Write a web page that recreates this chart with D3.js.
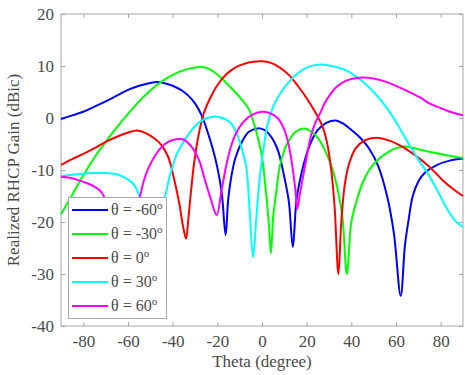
<!doctype html>
<html>

<head>
	<meta charset="utf-8">
	<script src="https://d3js.org/d3.v7.min.js" type="text/javascript"></script>
	<style>
		html, body { margin: 0; padding: 0; background: #fff; }
		#chartContainer { width: 465px; height: 375px; }
		svg text { font-family: "Liberation Serif", "Times New Roman", serif; }
	</style>
</head>

<body>

	<div id="chartContainer"></div>

	<script type="text/javascript">

		(function () {

			"use strict";

			// Ticks and legend labels
			const xTicks = [-80, -60, -40, -20, 0, 20, 40, 60, 80];
			const yTicks = [-40, -30, -20, -10, 0, 10, 20];
			const seriesNames = ["-60", "-30", "0", "30", "60"];
			const seriesColors = ["#0000ff", "#00ff00", "#ff0000", "#00ffff", "#ff00ff"];

			// Realized RHCP gain, [theta (deg), gain (dBic)]
			const gainM60 = [[-90, -0.2], [-85, 0.5], [-80, 1.2], [-75, 2.2], [-70, 3.2], [-65, 4.3], [-60, 5.4],
				[-55, 6.2], [-50, 6.75], [-47, 6.9], [-44, 6.75], [-40, 6.2], [-36, 5.3], [-33, 4.3], [-30, 2.8],
				[-27, 0.5], [-24.5, -2.5], [-22, -6], [-20, -9.5], [-18, -14.5], [-16.3, -22.5], [-15.2, -16],
				[-14.2, -12.5], [-12, -7.8], [-9, -4.6], [-6, -2.7], [-2, -2.0], [1, -2.3], [3, -3.0], [5.5, -4.6],
				[7.5, -6.7], [10, -11.4], [12, -16], [13.8, -24.8], [15.5, -15.5], [17.8, -10.4], [19.5, -7.6],
				[22, -4.6], [25, -2.3], [29, -0.9], [33, -0.5], [36, -1.0], [40, -2.3], [44, -3.8], [48, -5.9],
				[52, -9.2], [56, -15], [59, -22], [62.1, -34.2], [64, -24.5], [65.5, -20], [67.5, -15], [70, -12.2],
				[73, -10.5], [78, -9.1], [84, -8.2], [90, -7.8]];

			const gainM30 = [[-90, -18.5], [-85, -14.8], [-80, -11], [-75, -7.6], [-70, -4.6], [-65, -1.8],
				[-60, 0.8], [-55, 3.2], [-50, 5.3], [-45, 7.0], [-40, 8.3], [-35, 9.2], [-30, 9.7],
				[-27, 9.8], [-24, 9.5], [-21, 8.7], [-18, 7.6], [-15, 6.3], [-12, 5.0], [-9, 3.5], [-6, 1.8],
				[-4, -0.5], [-2, -3.5], [0, -7.5], [1.5, -13], [3, -20], [4, -26], [5, -19], [6, -15.5], [8, -9.2],
				[10, -6.2], [12, -4.4], [15, -2.7], [19, -2.0], [22, -2.6], [25, -3.8], [27.5, -5.6], [30, -8],
				[32, -10.5], [34, -14], [36, -19], [38, -30], [40, -20], [42, -16.5], [45, -12.5], [48, -10],
				[52, -8], [56, -6.7], [60, -5.8], [64, -5.5], [70, -6.0], [76, -6.6], [82, -7.1], [86, -7.4], [90, -7.7]];

			const gain0 = [[-90, -9.0], [-85, -7.9], [-80, -6.9], [-75, -5.8], [-70, -4.6], [-65, -3.6], [-60, -2.8],
				[-56, -2.4], [-52, -2.9], [-48, -4.0], [-45, -5.2], [-42, -7.5], [-39.5, -11.5], [-37, -16.5],
				[-35.5, -20.5], [-34, -23.2], [-33, -19.5], [-32, -15], [-30.5, -9], [-28.5, -3.5], [-26, 1],
				[-23, 4], [-20, 6.3], [-16, 8.4], [-12, 9.7], [-8, 10.4], [-4, 10.8], [0, 10.9], [4, 10.6], [8, 9.7],
				[12, 8.3], [16, 6.2], [20, 3.8], [24, 1.0], [27, -1.5], [29, -4.5], [31, -10], [32.5, -17],
				[34.2, -30], [35.5, -20], [37, -13], [39, -8.8], [42, -5.8], [46, -4.3], [51, -3.8], [56, -4.2],
				[62, -5.3], [68, -7], [75, -9.4], [81, -12], [86, -13.8], [90, -15]];

			const gain30 = [[-90, -11.2], [-85, -10.9], [-80, -10.7], [-75, -10.6], [-70, -10.6], [-65, -10.8],
				[-60, -11.8], [-57, -13], [-54.5, -15.5], [-52, -19], [-49, -23], [-46, -19], [-43.5, -15.3],
				[-41, -10.7], [-38, -6.8], [-35, -4.5], [-32, -2.6], [-28, -0.8], [-25, -0.1], [-21, 0.3],
				[-17, -0.1], [-14, -1.0], [-11, -3.3], [-8.5, -6.8], [-7, -9.5], [-5.5, -18], [-4, -26.8],
				[-2.5, -19], [-1, -11.5], [1, -5], [2.5, -1.2], [5, 2.2], [8, 4.6], [12, 6.9], [16, 8.6], [20, 9.7],
				[24, 10.2], [27, 10.3], [30, 10.1], [34, 9.7], [38, 9.1], [42, 8.0], [46, 6.7], [50, 5.0], [54, 3.0],
				[58, 0.6], [62, -2.2], [66, -5.2], [70, -8], [74, -10.5], [78, -13.5], [82, -16.8], [86, -19.5], [90, -21]];

			const gain60 = [[-90, -11.3], [-86, -11.5], [-82, -12], [-78, -12.6], [-75, -13.2], [-72, -14.2],
				[-70, -15.8], [-66, -20], [-63, -24], [-60, -20], [-57, -17], [-55, -15.5], [-53, -12.2], [-51, -9.8],
				[-48, -7.3], [-45, -5.6], [-42, -4.6], [-38.5, -4.1], [-35.5, -4.1], [-33, -4.8], [-30.5, -6.2],
				[-28, -8.3], [-25.5, -12], [-23, -15.5], [-20.3, -18.7], [-18, -13.6], [-15, -7.2], [-12, -3.3],
				[-8, -0.6], [-4, 0.7], [0, 1.2], [3, 1.0], [7, 0], [10, -2.3], [12, -5.3], [13.5, -9], [15, -14],
				[15.8, -17.5], [17, -14.5], [18.5, -11], [20, -7.5], [22, -3.3], [24, -0.8], [26, 0.9], [28, 2.8],
				[30.5, 4.5], [33, 5.8], [36.4, 6.9], [40, 7.5], [45, 7.8], [50, 7.6], [56, 6.9], [61, 6.0], [66, 5.0],
				[71, 3.9], [75, 2.8], [80, 1.9], [85, 1.1], [90, 0.5]];

			const allSeries = [gainM60, gainM30, gain0, gain30, gain60];

			const width = 465;
			const height = 375;
			const plot = { left: 61, right: 463, top: 14, bottom: 326 };
			const axisColor = "#a6a6a6";
			const textColor = "#4a4a4a";
			const serif = "'Liberation Serif', 'Times New Roman', serif";

			let svg = d3.select("#chartContainer").append("svg")
				.attr("width", width)
				.attr("height", height);

			let x = d3.scaleLinear().domain([-90, 90]).range([plot.left, plot.right]);
			let y = d3.scaleLinear().domain([-40, 20]).range([plot.bottom, plot.top]);

			// plain hyphen for negatives, like the original
			let fmt = function (d) { return String(d); };

			// Inward ticks on all four sides, labels only on bottom and left
			let xAxis = d3.axisBottom(x).tickValues(xTicks).tickFormat(fmt).tickSizeInner(-4).tickSizeOuter(0).tickPadding(9);
			let yAxis = d3.axisLeft(y).tickValues(yTicks).tickFormat(fmt).tickSizeInner(-4).tickSizeOuter(0).tickPadding(7);

			let gx = svg.append("g")
				.attr("transform", "translate(0," + plot.bottom + ")")
				.call(xAxis);
			let gy = svg.append("g")
				.attr("transform", "translate(" + plot.left + ",0)")
				.call(yAxis);
			let gxTop = svg.append("g")
				.attr("transform", "translate(0," + plot.top + ")")
				.call(d3.axisTop(x).tickValues(xTicks).tickSizeInner(-4).tickSizeOuter(0).tickFormat(""));
			let gyRight = svg.append("g")
				.attr("transform", "translate(" + plot.right + ",0)")
				.call(d3.axisRight(y).tickValues(yTicks).tickSizeInner(-4).tickSizeOuter(0).tickFormat(""));

			[gx, gy, gxTop, gyRight].forEach(function (g) {
				g.attr("font-family", serif).attr("font-size", 17);
				g.select(".domain").remove();
				g.selectAll(".tick line").attr("stroke", axisColor);
				g.selectAll(".tick text").attr("fill", textColor).style("font-family", serif);
			});

			// Plot frame
			svg.append("rect")
				.attr("x", plot.left)
				.attr("y", plot.top)
				.attr("width", plot.right - plot.left)
				.attr("height", plot.bottom - plot.top)
				.attr("fill", "none")
				.attr("stroke", axisColor)
				.attr("stroke-width", 1);

			let line = d3.line()
				.x(function (d) { return x(d[0]); })
				.y(function (d) { return y(d[1]); })
				.curve(d3.curveCatmullRom.alpha(0.5));

			allSeries.forEach(function (s, i) {
				svg.append("path")
					.datum(s)
					.attr("d", line)
					.attr("fill", "none")
					.attr("stroke", seriesColors[i])
					.attr("stroke-width", 2)
					.attr("stroke-linejoin", "round");
			});

			// Axis titles
			svg.append("text")
				.attr("x", (plot.left + plot.right) / 2)
				.attr("y", 367)
				.attr("text-anchor", "middle")
				.attr("font-size", 17)
				.attr("fill", textColor)
				.text("Theta (degree)");

			svg.append("text")
				.attr("transform", "translate(19," + ((plot.top + plot.bottom) / 2) + ") rotate(-90)")
				.attr("text-anchor", "middle")
				.attr("font-size", 17)
				.attr("fill", textColor)
				.text("Realized RHCP Gain (dBic)");

			// Legend, white box drawn over the curves
			let legend = svg.append("g");
			legend.append("rect")
				.attr("x", 68.5)
				.attr("y", 197.5)
				.attr("width", 98)
				.attr("height", 121)
				.attr("fill", "#fff")
				.attr("stroke", axisColor);

			seriesNames.forEach(function (name, i) {
				let ly = 210 + i * 24;
				legend.append("line")
					.attr("x1", 72).attr("x2", 108)
					.attr("y1", ly).attr("y2", ly)
					.attr("stroke", seriesColors[i])
					.attr("stroke-width", 2);
				let t = legend.append("text")
					.attr("x", 111)
					.attr("y", ly + 5)
					.attr("font-size", 16)
					.attr("fill", textColor);
				t.append("tspan").text("\u03b8 = " + name);
				t.append("tspan")
					.attr("dy", -6)
					.attr("font-size", 11)
					.text("o");
			});

		})();

	</script>

</body>

</html>
